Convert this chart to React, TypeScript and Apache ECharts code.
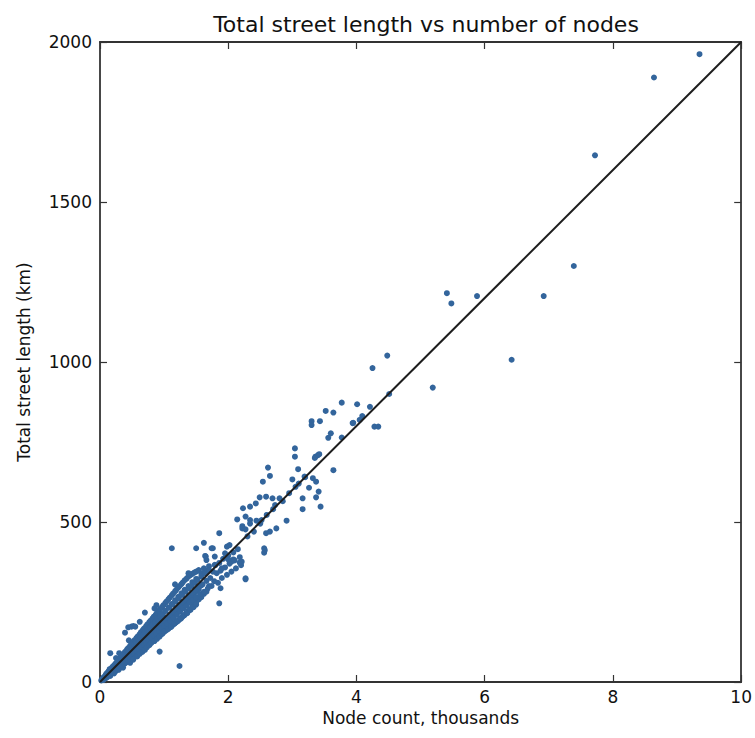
import React, { useEffect, useRef } from "react";
import * as echarts from "echarts";

const titleText = "Total street length vs number of nodes";
const xAxisName = "Node count, thousands";
const yAxisName = "Total street length (km)";
const xTicks = [0, 2, 4, 6, 8, 10];
const yTicks = [0, 500, 1000, 1500, 2000];

// Fitted line: total length (km) vs node count (thousands)
const fitLine: [number, number][] = [
  [0, 0],
  [10, 2000],
];

// Dense cluster, small places (x thousand nodes, y km)
const pointsSmall: [number, number][] = [
  [0.02, 5], [0.03, 8], [0.05, 12], [0.05, 6], [0.07, 16], [0.08, 11], [0.09, 22], [0.1, 18], [0.1, 26], [0.11, 14],
  [0.12, 30], [0.13, 21], [0.14, 34], [0.15, 25], [0.15, 40], [0.16, 19], [0.17, 36], [0.18, 29], [0.19, 44], [0.2, 32],
  [0.2, 48], [0.21, 38], [0.22, 27], [0.23, 52], [0.24, 41], [0.25, 35], [0.25, 58], [0.26, 46], [0.27, 62], [0.28, 50],
  [0.29, 38], [0.3, 66], [0.3, 55], [0.31, 44], [0.32, 70], [0.33, 58], [0.34, 50], [0.35, 76], [0.35, 63], [0.36, 45],
  [0.37, 80], [0.38, 68], [0.39, 58], [0.4, 86], [0.4, 73], [0.41, 62], [0.42, 92], [0.43, 78], [0.44, 66], [0.45, 98],
  [0.45, 84], [0.46, 72], [0.47, 60], [0.48, 104], [0.48, 90], [0.49, 78], [0.5, 112], [0.5, 96], [0.5, 84],
  [0.16, 90], [0.3, 90], [0.25, 75], [0.39, 154], [0.45, 130], [0.44, 171], [0.49, 173], [0.52, 175], [0.55, 173],
];

// Extra points filling the dense band along the line
const pointsBand: [number, number][] = [
  [0.06, 9], [0.06, 15], [0.09, 13], [0.09, 21], [0.12, 19], [0.12, 28], [0.12, 23], [0.14, 22], [0.14, 33],
  [0.17, 26], [0.17, 41], [0.17, 31], [0.19, 30], [0.19, 46], [0.22, 35], [0.22, 52], [0.22, 40], [0.24, 38], [0.24, 57],
  [0.27, 42], [0.27, 64], [0.27, 49], [0.29, 46], [0.29, 70], [0.32, 50], [0.32, 77], [0.32, 58], [0.34, 53], [0.34, 82], [0.34, 75],
  [0.37, 57], [0.37, 88], [0.37, 66], [0.39, 62], [0.39, 94], [0.39, 84], [0.42, 65], [0.42, 101], [0.42, 74],
  [0.44, 70], [0.44, 106], [0.44, 95], [0.47, 73], [0.47, 113], [0.47, 85], [0.49, 77], [0.49, 118], [0.49, 106],
  [0.52, 82], [0.52, 126], [0.52, 94], [0.54, 85], [0.54, 131], [0.54, 116], [0.57, 88], [0.57, 138], [0.57, 101],
  [0.59, 92], [0.59, 143], [0.59, 127], [0.62, 96], [0.62, 150], [0.62, 112], [0.62, 136], [0.64, 100], [0.64, 156], [0.64, 118],
  [0.67, 104], [0.67, 163], [0.67, 122], [0.67, 148], [0.69, 107], [0.69, 168], [0.69, 127],
  [0.72, 112], [0.72, 175], [0.72, 132], [0.72, 158], [0.74, 115], [0.74, 180], [0.74, 139],
  [0.77, 120], [0.77, 187], [0.77, 141], [0.77, 170], [0.79, 124], [0.79, 192], [0.79, 148],
  [0.82, 128], [0.82, 199], [0.82, 150], [0.82, 180], [0.84, 131], [0.84, 204], [0.84, 158],
  [0.87, 136], [0.87, 211], [0.87, 160], [0.87, 190], [0.89, 139], [0.89, 216], [0.89, 166],
  [0.92, 144], [0.92, 223], [0.92, 170], [0.92, 201], [0.94, 147], [0.94, 228], [0.94, 176],
  [0.97, 152], [0.97, 235], [0.97, 180], [0.97, 212], [0.99, 155], [0.99, 240], [0.99, 185],
  [1.02, 160], [1.02, 247], [1.02, 188], [1.02, 222], [1.04, 163], [1.04, 252], [1.04, 195],
  [1.07, 168], [1.07, 259], [1.07, 198], [1.07, 233], [1.09, 171], [1.09, 264], [1.09, 205],
  [1.12, 176], [1.12, 271], [1.12, 208], [1.12, 244], [1.14, 179], [1.14, 276], [1.14, 214],
  [1.17, 184], [1.17, 283], [1.17, 217], [1.17, 255], [1.19, 187], [1.19, 288], [1.19, 224],
  [1.22, 192], [1.22, 295], [1.22, 227], [1.22, 266], [1.24, 196], [1.24, 300], [1.24, 233],
  [1.27, 201], [1.27, 306], [1.27, 236], [1.27, 277], [1.29, 205], [1.29, 311], [1.29, 243],
  [1.32, 210], [1.32, 318], [1.32, 246], [1.32, 288], [1.35, 216], [1.35, 323], [1.35, 252],
  [1.38, 222], [1.38, 330], [1.38, 258], [1.38, 300], [1.41, 228], [1.41, 334], [1.41, 265],
  [1.44, 235], [1.44, 338], [1.44, 270], [1.44, 312], [1.47, 240], [1.47, 342], [1.47, 278],
  [1.5, 248], [1.5, 345], [1.5, 284], [1.5, 322], [1.54, 258], [1.54, 350], [1.54, 290],
  [1.58, 265], [1.58, 340], [1.58, 302], [1.62, 275], [1.62, 355], [1.66, 282], [1.66, 348], [1.7, 300], [1.7, 362],
];

const pointsMid: [number, number][] = [
  [0.52, 70], [0.53, 118], [0.54, 102], [0.55, 90], [0.56, 125], [0.57, 108], [0.58, 96], [0.58, 80], [0.6, 132], [0.6, 115],
  [0.61, 102], [0.62, 88], [0.63, 140], [0.64, 122], [0.65, 108], [0.66, 94], [0.67, 146], [0.68, 128], [0.69, 115], [0.7, 100],
  [0.7, 156], [0.71, 136], [0.72, 122], [0.73, 108], [0.74, 162], [0.75, 145], [0.76, 130], [0.77, 115], [0.78, 170], [0.79, 152],
  [0.8, 138], [0.8, 122], [0.82, 178], [0.83, 160], [0.84, 145], [0.85, 128], [0.86, 186], [0.87, 168], [0.88, 152], [0.89, 135],
  [0.9, 196], [0.91, 176], [0.92, 160], [0.93, 142], [0.94, 204], [0.95, 184], [0.96, 168], [0.97, 150], [0.98, 212], [0.99, 192],
  [1.0, 175], [1.0, 158], [0.62, 188], [0.7, 217], [0.85, 230], [0.88, 240], [0.93, 95], [1.24, 50], [1.17, 305],
  [1.02, 222], [1.03, 200], [1.05, 182], [1.06, 165], [1.08, 232], [1.09, 210], [1.1, 192], [1.11, 172], [1.13, 242], [1.14, 220],
  [1.15, 200], [1.16, 182], [1.18, 252], [1.19, 230], [1.2, 210], [1.21, 190], [1.23, 262], [1.24, 240], [1.25, 220], [1.26, 198],
  [1.28, 272], [1.29, 250], [1.3, 230], [1.31, 208], [1.33, 282], [1.34, 260], [1.35, 238], [1.36, 215], [1.38, 292], [1.38, 340],
  [1.39, 270], [1.4, 248], [1.41, 225], [1.43, 300], [1.44, 278], [1.45, 256], [1.46, 234], [1.48, 310], [1.49, 288], [1.5, 265], [1.5, 242],
];

const pointsLarge: [number, number][] = [
  [1.52, 320], [1.54, 298], [1.56, 275], [1.58, 330], [1.6, 305], [1.62, 282], [1.64, 340], [1.66, 316], [1.68, 292], [1.7, 350],
  [1.72, 325], [1.74, 300], [1.76, 345], [1.78, 315], [1.8, 365], [1.82, 340], [1.84, 310], [1.86, 372], [1.88, 348], [1.9, 325],
  [1.92, 385], [1.95, 358], [1.98, 335], [2.0, 395], [2.02, 370], [2.05, 345], [2.08, 405], [2.1, 380], [2.12, 355], [2.15, 415],
  [2.18, 390], [2.2, 365],
  [1.86, 465], [1.62, 435], [1.76, 418], [1.5, 418], [1.12, 418], [1.98, 423], [1.95, 402], [1.65, 392], [1.66, 381], [1.79, 392],
  [2.0, 383], [2.05, 376], [2.18, 373], [1.74, 418], [2.02, 428], [2.21, 376], [2.27, 321], [2.27, 324], [1.88, 293], [1.86, 246],
  [2.08, 383], [1.9, 355], [1.64, 394], [1.79, 366],
  [2.62, 670], [2.65, 644], [3.09, 665], [3.0, 633], [3.19, 642], [3.32, 637], [3.37, 626], [3.26, 607], [3.41, 595], [3.16, 574],
  [3.16, 540], [3.37, 577], [3.44, 548], [2.54, 626], [2.49, 577], [2.59, 579], [2.69, 574], [2.43, 558], [2.34, 548], [2.23, 543],
  [2.8, 574], [2.73, 553], [2.91, 504], [2.6, 522], [2.52, 506], [2.44, 504], [2.34, 506], [2.27, 517], [2.14, 508], [2.22, 487],
  [2.22, 480], [2.27, 477], [2.75, 480], [2.65, 470], [2.59, 465], [2.56, 418], [2.56, 404], [2.34, 495], [2.57, 412],
  [2.3, 455], [2.4, 470], [2.5, 495], [2.7, 540], [2.85, 565], [2.95, 590], [3.05, 610], [3.1, 620], [3.2, 640],
  [3.04, 730], [3.04, 704], [3.36, 704], [3.4, 709], [3.35, 700], [3.42, 712], [3.64, 662],
  [3.77, 873], [3.52, 847], [3.64, 842], [3.3, 815], [3.3, 803], [3.43, 815], [3.6, 777], [3.56, 763], [3.77, 764],
  [3.94, 809], [4.05, 819], [4.09, 831], [4.21, 860], [4.01, 868], [3.95, 810], [4.28, 798], [4.34, 798],
  [4.48, 1020], [4.25, 981], [4.51, 900],
  [5.19, 920], [5.41, 1215], [5.48, 1183], [5.88, 1206], [6.42, 1007], [6.92, 1206], [7.39, 1300], [7.72, 1646],
  [8.64, 1889], [9.35, 1962],
];

const FONT = "DejaVu Sans";
const AXIS_COLOR = "#333333";
const DOT_COLOR = "#33659c";

export default function App() {
  const ref = useRef<HTMLDivElement>(null);

  useEffect(() => {
    if (!ref.current) return;
    const chart = echarts.init(ref.current, undefined, { renderer: "svg" });
    const grid = { left: 100, right: 13, top: 42, bottom: 56 };
    const axisLine = { show: true, onZero: false, lineStyle: { color: AXIS_COLOR, width: 1.8 } };
    const tick = { show: true, inside: true, length: 7, lineStyle: { color: AXIS_COLOR, width: 1.2 } };
    const xMax = xTicks[xTicks.length - 1];
    const yMax = yTicks[yTicks.length - 1];
    const plain = (v: number) => String(v);
    chart.setOption({
      animation: false,
      backgroundColor: "#ffffff",
      title: {
        text: titleText,
        left: 421,
        top: 8,
        textAlign: "center",
        textStyle: { fontFamily: FONT, fontSize: 22, fontWeight: "normal", color: "#111" },
      },
      grid,
      xAxis: [
        {
          type: "value",
          min: xTicks[0],
          max: xMax,
          interval: xTicks[1] - xTicks[0],
          position: "bottom",
          name: xAxisName,
          nameLocation: "middle",
          nameGap: 23,
          nameTextStyle: { fontFamily: FONT, fontSize: 17, color: "#111" },
          axisLine,
          axisTick: tick,
          splitLine: { show: false },
          axisLabel: { fontFamily: FONT, fontSize: 17, color: "#111", margin: 6, formatter: plain },
        },
        {
          type: "value",
          min: xTicks[0],
          max: xMax,
          interval: xTicks[1] - xTicks[0],
          position: "top",
          axisLine,
          axisTick: tick,
          splitLine: { show: false },
          axisLabel: { show: false },
        },
      ],
      yAxis: [
        {
          type: "value",
          min: yTicks[0],
          max: yMax,
          interval: yTicks[1] - yTicks[0],
          position: "left",
          name: yAxisName,
          nameLocation: "middle",
          nameGap: 68,
          nameTextStyle: { fontFamily: FONT, fontSize: 17, color: "#111" },
          axisLine,
          axisTick: tick,
          splitLine: { show: false },
          axisLabel: { fontFamily: FONT, fontSize: 17, color: "#111", margin: 8, formatter: plain },
        },
        {
          type: "value",
          min: yTicks[0],
          max: yMax,
          interval: yTicks[1] - yTicks[0],
          position: "right",
          axisLine,
          axisTick: tick,
          splitLine: { show: false },
          axisLabel: { show: false },
        },
      ],
      series: [
        {
          type: "scatter",
          data: [...pointsSmall, ...pointsBand, ...pointsMid, ...pointsLarge],
          symbolSize: 6,
          itemStyle: { color: DOT_COLOR, opacity: 1 },
          z: 2,
        },
        {
          type: "line",
          data: fitLine,
          symbol: "none",
          lineStyle: { color: "#1e1e1e", width: 2 },
          z: 3,
        },
      ],
    });
    return () => chart.dispose();
  }, []);

  return (
    <div
      ref={ref}
      style={{ position: "absolute", left: 0, top: 0, width: 755, height: 738, background: "#fff" }}
    />
  );
}
